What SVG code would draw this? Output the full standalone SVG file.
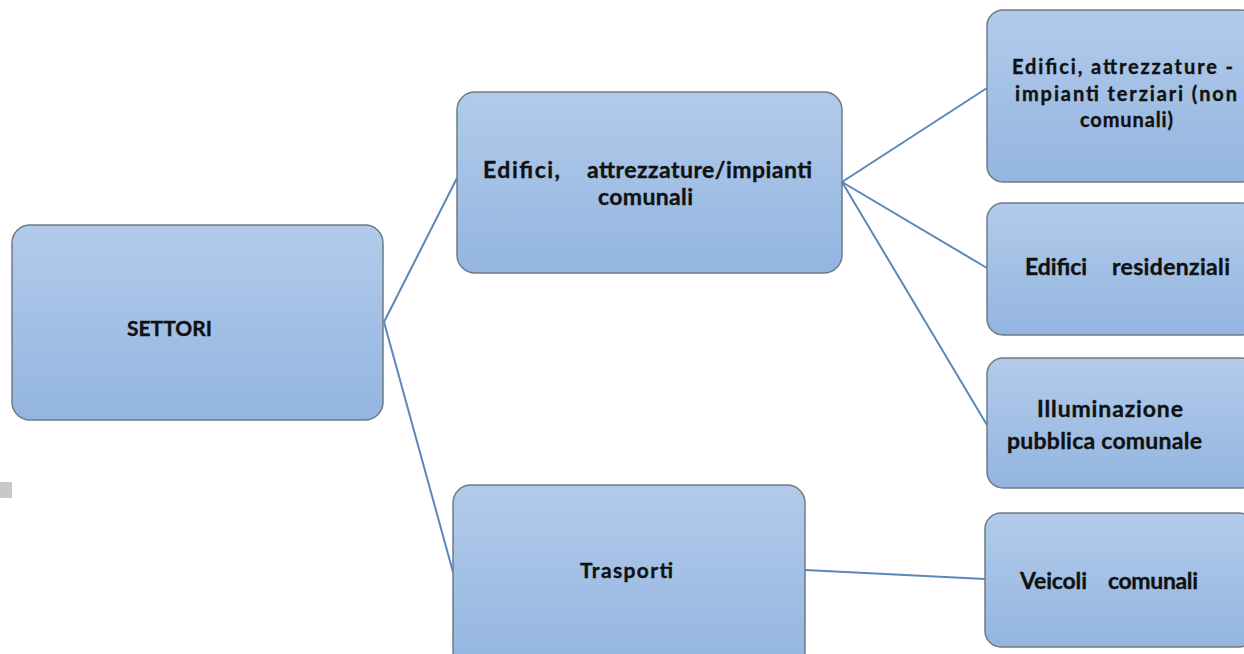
<svg xmlns="http://www.w3.org/2000/svg" width="1244" height="654" viewBox="0 0 1244 654">
<defs>
<linearGradient id="g" x1="0" y1="0" x2="0" y2="1">
<stop offset="0" stop-color="#b2cbea"/>
<stop offset="1" stop-color="#93b5e0"/>
</linearGradient>
</defs>
<style>
.box{fill:url(#g);stroke:#6f7a86;stroke-width:1.5}
.t{font-family:Lato,"Open Sans","Liberation Sans",sans-serif;font-weight:bold;font-size:23px;fill:#111;stroke:#111;stroke-width:0.35}
.s{font-size:21px}
.m{font-size:20px}
.c{fill:none;stroke:#5a87b8;stroke-width:2}
</style>
<rect x="0" y="482" width="12" height="16" fill="#c8c8c8"/>
<g id="connectors">
<line class="c" x1="384" y1="322" x2="457" y2="178"/>
<line class="c" x1="384" y1="322" x2="453" y2="572"/>
<line class="c" x1="842" y1="182" x2="987" y2="88"/>
<line class="c" x1="842" y1="182" x2="987" y2="268"/>
<line class="c" x1="842" y1="182" x2="987" y2="425"/>
<line class="c" x1="805" y1="570" x2="985" y2="579"/>
</g>
<g id="settori">
<rect class="box" x="12" y="225" width="371" height="195" rx="18"/>
<text class="t s" x="127" y="336" textLength="85">SETTORI</text>
</g>
<g id="edifici-comunali">
<rect class="box" x="457" y="92" width="385" height="181" rx="18"/>
<text class="t" x="483" y="178" textLength="77">Edifici,</text>
<text class="t" x="587" y="178" textLength="225">attrezzature/impianti</text>
<text class="t" x="598" y="205" textLength="95">comunali</text>
</g>
<g id="trasporti">
<rect class="box" x="453" y="485" width="352" height="185" rx="18"/>
<text class="t s" x="580" y="578" textLength="93">Trasporti</text>
</g>
<g id="terziari">
<rect class="box" x="987" y="10" width="270" height="172" rx="16"/>
<text class="t m" x="1012" y="74" textLength="221">Edifici, attrezzature -</text>
<text class="t m" x="1015" y="101" textLength="222">impianti terziari (non</text>
<text class="t m" x="1080" y="127" textLength="93">comunali)</text>
</g>
<g id="residenziali">
<rect class="box" x="987" y="203" width="270" height="132" rx="16"/>
<text class="t" x="1025" y="275" textLength="62">Edifici</text>
<text class="t" x="1112" y="275" textLength="118">residenziali</text>
</g>
<g id="illuminazione">
<rect class="box" x="987" y="358" width="270" height="130" rx="16"/>
<text class="t" x="1037" y="417" textLength="146">Illuminazione</text>
<text class="t" x="1007" y="449" textLength="195">pubblica comunale</text>
</g>
<g id="veicoli">
<rect class="box" x="985" y="513" width="270" height="134" rx="16"/>
<text class="t" x="1020" y="589" textLength="67">Veicoli</text>
<text class="t" x="1108" y="589" textLength="90">comunali</text>
</g>
</svg>
